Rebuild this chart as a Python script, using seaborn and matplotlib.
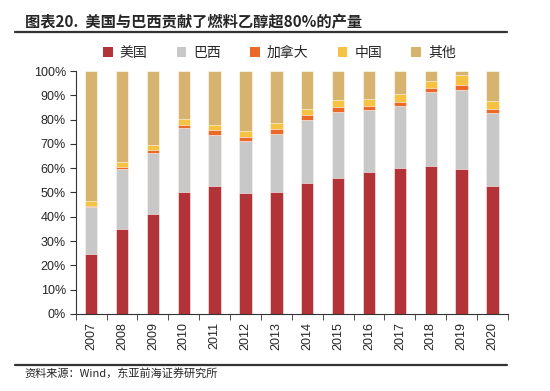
import numpy as np
import pandas as pd
import seaborn as sns
import matplotlib.pyplot as plt
from matplotlib.lines import Line2D
from matplotlib.patches import Patch

# Share of fuel ethanol production (%)
years = ['2007', '2008', '2009', '2010', '2011', '2012', '2013',
         '2014', '2015', '2016', '2017', '2018', '2019', '2020']
usa = [24.7, 35.0, 41.3, 50.2, 52.7, 49.8, 50.2, 54.0, 56.0, 58.4, 60.2, 60.9, 59.5, 52.8]
brazil = [19.3, 24.7, 25.1, 26.5, 21.1, 21.4, 23.8, 25.8, 27.3, 25.6, 25.4, 30.3, 32.8, 29.9]
canada = [0.4, 0.8, 1.1, 1.2, 1.8, 1.6, 2.0, 2.0, 1.8, 1.7, 1.8, 1.7, 1.9, 1.7]
china = [2.1, 2.1, 1.9, 2.2, 2.1, 2.5, 2.7, 2.4, 3.0, 2.7, 3.1, 3.1, 4.0, 3.3]

names = ['美国', '巴西', '加拿大', '中国', '其他']
colors = ['#B23438', '#C8C8C8', '#EB6A2A', '#F5C242', '#D6B36F']

df = pd.DataFrame({'year': years, '美国': usa, '巴西': brazil, '加拿大': canada, '中国': china})
df['其他'] = 100 - df[['美国', '巴西', '加拿大', '中国']].sum(axis=1)

# cumulative tops, drawn from the top layer down so each bar covers the one before
cum = df[names].cumsum(axis=1)

sns.set_style('ticks')
plt.rcParams['font.family'] = ['Liberation Sans', 'Noto Sans CJK SC', 'DejaVu Sans']

fig = plt.figure(figsize=(5.5, 3.91), dpi=100)
ax = fig.add_axes([0.1376, 0.197, 0.786, 0.6214])

for name, color in zip(names[::-1], colors[::-1]):
    sns.barplot(x=df['year'], y=cum[name], color=color, width=0.4,
                edgecolor='white', linewidth=0.4, saturation=1, ax=ax)

ax.set_xlim(-0.5, len(years) - 0.5)
ax.set_ylim(0, 100)
ax.set_yticks(np.arange(0, 101, 10))
ax.set_yticklabels([f'{v}%' for v in range(0, 101, 10)], fontsize=9)
ax.set_xticks(range(len(years)))
ax.set_xticklabels(years, rotation=90, fontsize=9)
ax.set_xticks(np.arange(-0.5, len(years), 1), minor=True)
ax.tick_params(axis='x', which='major', length=0, pad=6)
ax.tick_params(axis='x', which='minor', length=4, direction='out', color='#333333')
ax.tick_params(axis='y', length=4, direction='out', color='#333333', pad=3)
ax.set_xlabel('')
ax.set_ylabel('')
for side in ['top', 'right']:
    ax.spines[side].set_visible(False)
for side in ['left', 'bottom']:
    ax.spines[side].set_color('#333333')
    ax.spines[side].set_linewidth(0.8)

handles = [Patch(facecolor=c, edgecolor='none') for c in colors]
fig.legend(handles, names, ncol=5, loc='center', bbox_to_anchor=(0.508, 0.864),
           frameon=False, handlelength=0.7, handleheight=0.7,
           handletextpad=0.5, columnspacing=2.1, prop={'family': 'Noto Sans CJK SC', 'size': 10})

fig.text(0.045, 0.944, '图表20.  美国与巴西贡献了燃料乙醇超80%的产量', fontsize=11,
         fontweight='bold', family=['Noto Sans CJK SC', 'DejaVu Sans'], va='center')
fig.add_artist(Line2D([0.027, 0.922], [0.917, 0.917], color='#333333', linewidth=1.6))
fig.add_artist(Line2D([0.027, 0.922], [0.066, 0.066], color='#333333', linewidth=1.6))
fig.text(0.045, 0.046, '资料来源：Wind，东亚前海证券研究所', fontsize=8,
         family=['Noto Sans CJK SC', 'DejaVu Sans'], va='center')

fig.savefig('out.png', dpi=100)
